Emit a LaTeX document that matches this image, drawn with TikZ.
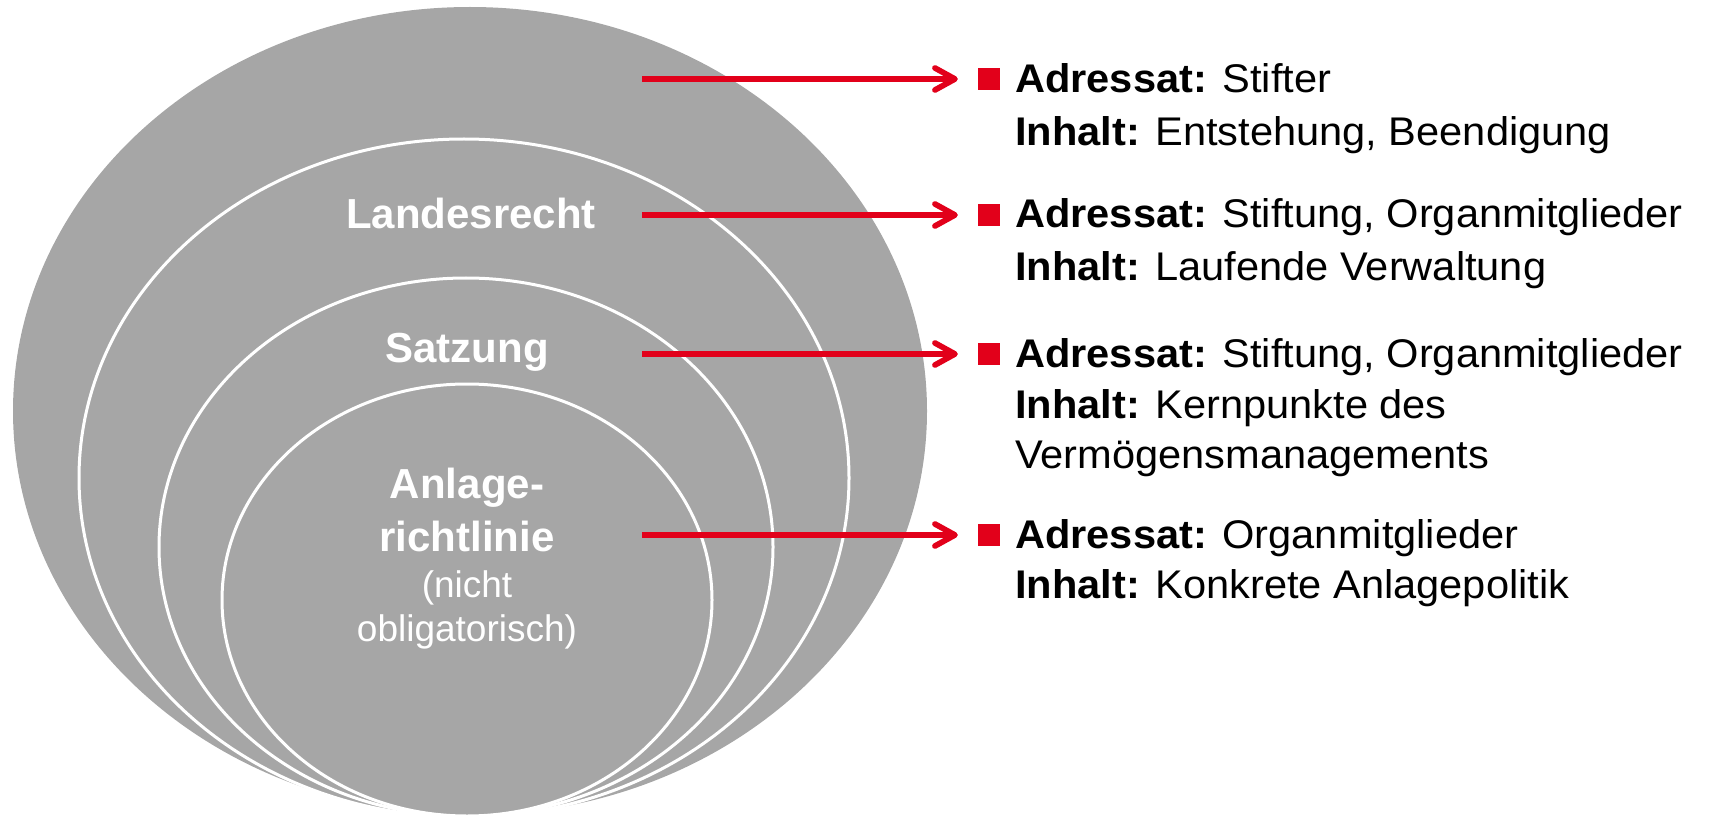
\documentclass[tikz,border=0pt]{standalone}
\usepackage{fontspec}
\setmainfont{Liberation Sans}[FakeStretch=1.04]
\newfontfamily\lblfont{Liberation Sans}
\usetikzlibrary{arrows.meta}
\definecolor{ggrey}{HTML}{A6A6A6}
\definecolor{rred}{HTML}{E2001A}
\begin{document}
\begin{tikzpicture}[x=1pt,y=1pt,
  lay/.style={fill=ggrey, draw=white, line width=3pt},
  lbl/.style={text=white, font=\lblfont\fontsize{42}{50}\selectfont\bfseries, inner sep=0pt, anchor=base},
  lbls/.style={text=white, font=\lblfont\fontsize{37}{44}\selectfont, inner sep=0pt, anchor=base},
  txt/.style={font=\fontsize{40}{48}\selectfont, inner sep=0pt, anchor=base west},
  sq/.style={fill=rred, minimum size=22pt, inner sep=0pt},
  arr/.style={draw=rred, line width=5.7pt, -{Straight Barb[length=20pt,width=22pt,line cap=round,line join=round]}, shorten >=20pt}
]
\useasboundingbox (0,0) rectangle (1713,-818);
% layers
\fill[ggrey] (470,-411) ellipse[x radius=457pt, y radius=404pt];
\filldraw[lay] (464,-478) ellipse[x radius=385pt, y radius=339pt];
\filldraw[lay] (466,-547) ellipse[x radius=307pt, y radius=269pt];
\filldraw[lay] (467,-600) ellipse[x radius=245pt, y radius=216pt];
% labels
\node[lbl] (l2) at (471,-229) {Landesrecht};
\node[lbl] (l3) at (467,-362) {Satzung};
\node[lbl] (l4a) at (467,-498) {Anlage-};
\node[lbl] (l4b) at (467,-551) {richtlinie};
\node[lbls] (l4c) at (467,-597) {(nicht};
\node[lbls] (l4d) at (467,-641) {obligatorisch)};
% bullets
\node[sq] (q1) at (989,-79) {};
\node[sq] (q2) at (989,-215) {};
\node[sq] (q3) at (989,-354) {};
\node[sq] (q4) at (989,-535) {};
% texts
\node[txt] (t1a) at (1015,-93) {\textbf{Adressat:} Stifter};
\node[txt] (t1b) at (1015,-146) {\textbf{Inhalt:} Entstehung, Beendigung};
\node[txt] (t2a) at (1015,-228) {\textbf{Adressat:} Stiftung, Organmitglieder};
\node[txt] (t2b) at (1015,-280) {\textbf{Inhalt:} Laufende Verwaltung};
\node[txt] (t3a) at (1015,-367) {\textbf{Adressat:} Stiftung, Organmitglieder};
\node[txt] (t3b) at (1015,-418) {\textbf{Inhalt:} Kernpunkte des};
\node[txt] (t3c) at (1015,-468) {Vermögensmanagements};
\node[txt] (t4a) at (1015,-548) {\textbf{Adressat:} Organmitglieder};
\node[txt] (t4b) at (1015,-598) {\textbf{Inhalt:} Konkrete Anlagepolitik};
% arrows
\coordinate (s1) at (642,-79);
\coordinate (s2) at (642,-215);
\coordinate (s3) at (642,-354);
\coordinate (s4) at (642,-535);
\draw[arr] (s1) -- (q1.west);
\draw[arr] (s2) -- (q2.west);
\draw[arr] (s3) -- (q3.west);
\draw[arr] (s4) -- (q4.west);
\end{tikzpicture}
\end{document}
